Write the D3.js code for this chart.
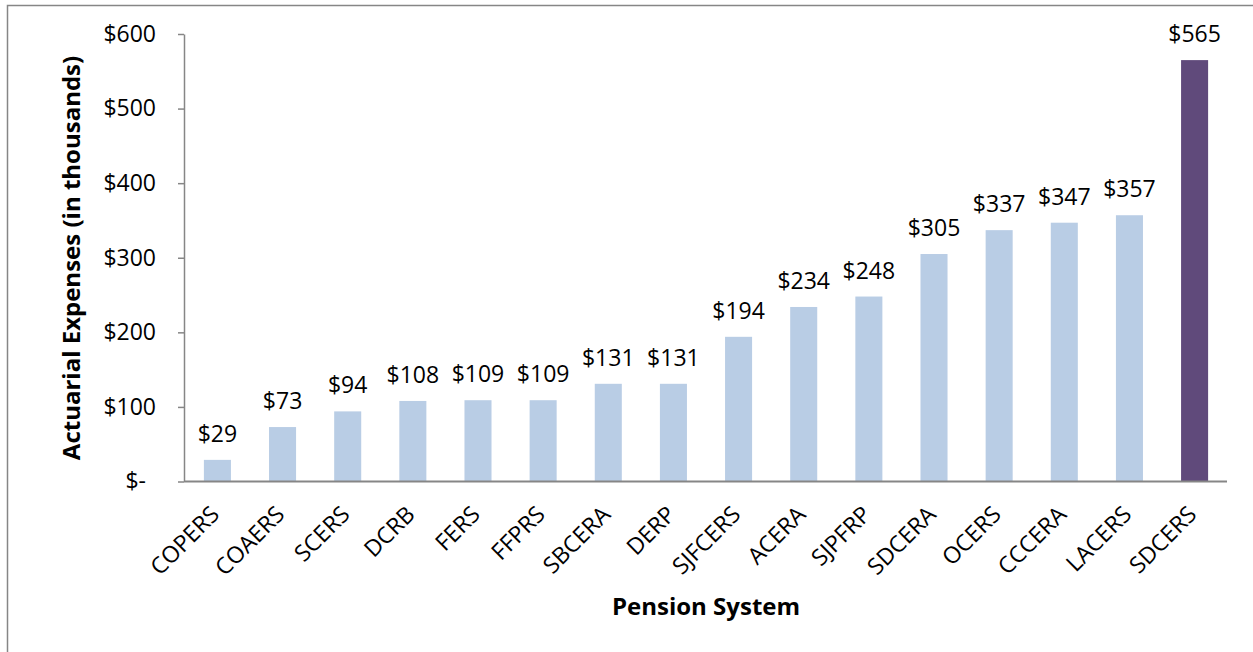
<!DOCTYPE html>
<html>
<head>
<meta charset="utf-8">
<script src="https://cdn.jsdelivr.net/npm/d3@7"></script>
<style>
    body { margin: 0; background: #fff; }
    svg { display: block; font-family: "Open Sans", sans-serif; }
    .axis path, .axis line { stroke: #868686; stroke-width: 1.5; }
    .axis text { font-size: 23px; fill: #000; font-family: "Open Sans", sans-serif; }
</style>
</head>
<body>
<div id="chart"></div>
<script>
// pension systems and actuarial expenses (in thousands)
const systems = ['COPERS', 'COAERS', 'SCERS', 'DCRB', 'FERS', 'FFPRS', 'SBCERA', 'DERP',
    'SJFCERS', 'ACERA', 'SJPFRP', 'SDCERA', 'OCERS', 'CCCERA', 'LACERS', 'SDCERS'];
const expenses = [29, 73, 94, 108, 109, 109, 131, 131, 194, 234, 248, 305, 337, 347, 357, 565];
const yTicks = [0, 100, 200, 300, 400, 500, 600];
const highlight = 'SDCERS';

const width = 1253, height = 652;
const svg = d3.select("#chart").append("svg")
    .attr("width", width)
    .attr("height", height);

// outer frame (right/bottom edges fall outside the picture)
svg.append("rect")
    .attr("x", 7.5).attr("y", 5.5)
    .attr("width", 1300).attr("height", 700)
    .attr("fill", "none")
    .attr("stroke", "#868686")
    .attr("stroke-width", 1.5);

const x = d3.scaleBand()
    .domain(systems)
    .range([185, 1227])
    .paddingInner(0.585)
    .paddingOuter(0.29);

const y = d3.scaleLinear()
    .domain([0, 600])
    .range([481.5, 34]);

// y axis
const yAxis = svg.append("g")
    .attr("class", "axis")
    .attr("transform", "translate(184,0)")
    .call(d3.axisLeft(y)
        .tickValues(yTicks)
        .tickSize(6)
        .tickSizeOuter(0)
        .tickPadding(22)
        .tickFormat(d => d === 0 ? "$-" : "$" + d));
yAxis.selectAll(".tick text")
    .filter(d => d === 0)
    .attr("dx", -10);

// bars
svg.selectAll(".bar")
    .data(systems)
    .enter()
    .append("rect")
    .attr("class", "bar")
    .attr("x", d => x(d))
    .attr("width", x.bandwidth())
    .attr("y", (d, i) => y(expenses[i]))
    .attr("height", (d, i) => y(0) - y(expenses[i]))
    .attr("fill", d => d === highlight ? "#604A7B" : "#B9CDE5");

// value labels
svg.selectAll(".value")
    .data(systems)
    .enter()
    .append("text")
    .attr("class", "value")
    .attr("x", d => x(d) + x.bandwidth() / 2)
    .attr("y", (d, i) => y(expenses[i]) - 18)
    .attr("text-anchor", "middle")
    .style("font-size", "23px")
    .text((d, i) => "$" + expenses[i]);

// x axis line
svg.append("line")
    .attr("x1", 184).attr("x2", 1227)
    .attr("y1", y(0)).attr("y2", y(0))
    .attr("stroke", "#868686")
    .attr("stroke-width", 2);

// category labels
svg.selectAll(".cat")
    .data(systems)
    .enter()
    .append("text")
    .attr("class", "cat")
    .attr("transform", d => `translate(${x(d) + x.bandwidth() / 2 - 8},${y(0) + 23}) rotate(-45)`)
    .attr("text-anchor", "end")
    .attr("dy", "0.7em")
    .style("font-size", "23px")
    .text(d => d);

// axis titles
svg.append("text")
    .attr("transform", "translate(80,258) rotate(-90)")
    .attr("text-anchor", "middle")
    .style("font-size", "24px")
    .style("font-weight", "bold")
    .text("Actuarial Expenses (in thousands)");

svg.append("text")
    .attr("x", 706)
    .attr("y", 615)
    .attr("text-anchor", "middle")
    .style("font-size", "24px")
    .style("font-weight", "bold")
    .text("Pension System");
</script>
</body>
</html>
